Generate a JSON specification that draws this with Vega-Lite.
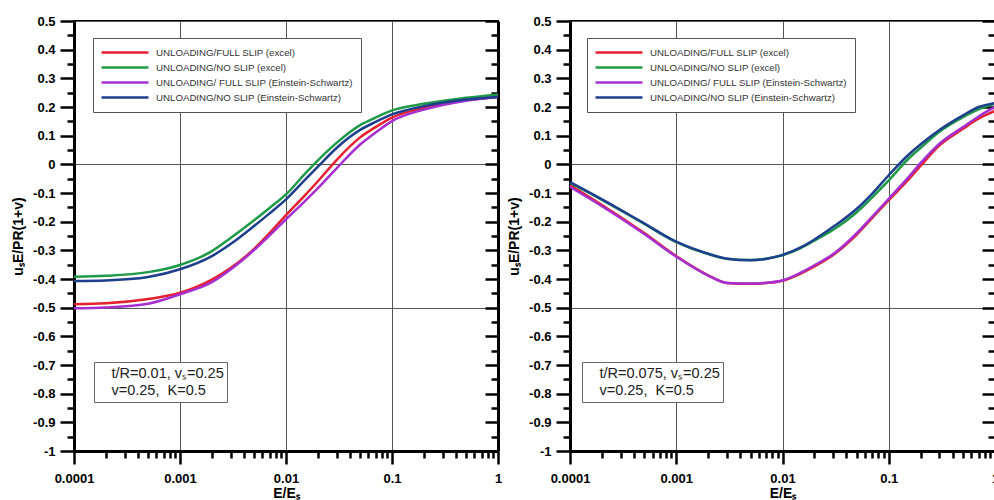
{
  "$schema": "https://vega.github.io/schema/vega-lite/v6.json",
  "background": "white",
  "padding": {"left": 10, "top": 14, "right": 0, "bottom": 0},
  "spacing": 2,
  "datasets": {
    "curves": [
      {"p":"L","s":"UNLOADING/FULL SLIP (excel)","x":0.0001,"y":-0.488},
      {"p":"L","s":"UNLOADING/FULL SLIP (excel)","x":0.0002,"y":-0.485},
      {"p":"L","s":"UNLOADING/FULL SLIP (excel)","x":0.0005,"y":-0.470},
      {"p":"L","s":"UNLOADING/FULL SLIP (excel)","x":0.001,"y":-0.448},
      {"p":"L","s":"UNLOADING/FULL SLIP (excel)","x":0.002,"y":-0.402},
      {"p":"L","s":"UNLOADING/FULL SLIP (excel)","x":0.003,"y":-0.362},
      {"p":"L","s":"UNLOADING/FULL SLIP (excel)","x":0.005,"y":-0.295},
      {"p":"L","s":"UNLOADING/FULL SLIP (excel)","x":0.007,"y":-0.240},
      {"p":"L","s":"UNLOADING/FULL SLIP (excel)","x":0.01,"y":-0.177},
      {"p":"L","s":"UNLOADING/FULL SLIP (excel)","x":0.015,"y":-0.109},
      {"p":"L","s":"UNLOADING/FULL SLIP (excel)","x":0.02,"y":-0.059},
      {"p":"L","s":"UNLOADING/FULL SLIP (excel)","x":0.03,"y":0.015},
      {"p":"L","s":"UNLOADING/FULL SLIP (excel)","x":0.05,"y":0.094},
      {"p":"L","s":"UNLOADING/FULL SLIP (excel)","x":0.07,"y":0.130},
      {"p":"L","s":"UNLOADING/FULL SLIP (excel)","x":0.1,"y":0.163},
      {"p":"L","s":"UNLOADING/FULL SLIP (excel)","x":0.2,"y":0.197},
      {"p":"L","s":"UNLOADING/FULL SLIP (excel)","x":0.5,"y":0.224},
      {"p":"L","s":"UNLOADING/FULL SLIP (excel)","x":1,"y":0.235},
      {"p":"L","s":"UNLOADING/NO SLIP (excel)","x":0.0001,"y":-0.392},
      {"p":"L","s":"UNLOADING/NO SLIP (excel)","x":0.0002,"y":-0.389},
      {"p":"L","s":"UNLOADING/NO SLIP (excel)","x":0.0005,"y":-0.376},
      {"p":"L","s":"UNLOADING/NO SLIP (excel)","x":0.001,"y":-0.351},
      {"p":"L","s":"UNLOADING/NO SLIP (excel)","x":0.002,"y":-0.303},
      {"p":"L","s":"UNLOADING/NO SLIP (excel)","x":0.003,"y":-0.257},
      {"p":"L","s":"UNLOADING/NO SLIP (excel)","x":0.005,"y":-0.195},
      {"p":"L","s":"UNLOADING/NO SLIP (excel)","x":0.007,"y":-0.152},
      {"p":"L","s":"UNLOADING/NO SLIP (excel)","x":0.01,"y":-0.105},
      {"p":"L","s":"UNLOADING/NO SLIP (excel)","x":0.015,"y":-0.034},
      {"p":"L","s":"UNLOADING/NO SLIP (excel)","x":0.02,"y":0.014},
      {"p":"L","s":"UNLOADING/NO SLIP (excel)","x":0.03,"y":0.075},
      {"p":"L","s":"UNLOADING/NO SLIP (excel)","x":0.05,"y":0.137},
      {"p":"L","s":"UNLOADING/NO SLIP (excel)","x":0.07,"y":0.163},
      {"p":"L","s":"UNLOADING/NO SLIP (excel)","x":0.1,"y":0.188},
      {"p":"L","s":"UNLOADING/NO SLIP (excel)","x":0.2,"y":0.211},
      {"p":"L","s":"UNLOADING/NO SLIP (excel)","x":0.5,"y":0.232},
      {"p":"L","s":"UNLOADING/NO SLIP (excel)","x":1,"y":0.244},
      {"p":"L","s":"UNLOADING/ FULL SLIP (Einstein-Schwartz)","x":0.0001,"y":-0.502},
      {"p":"L","s":"UNLOADING/ FULL SLIP (Einstein-Schwartz)","x":0.0002,"y":-0.499},
      {"p":"L","s":"UNLOADING/ FULL SLIP (Einstein-Schwartz)","x":0.0005,"y":-0.486},
      {"p":"L","s":"UNLOADING/ FULL SLIP (Einstein-Schwartz)","x":0.001,"y":-0.453},
      {"p":"L","s":"UNLOADING/ FULL SLIP (Einstein-Schwartz)","x":0.002,"y":-0.411},
      {"p":"L","s":"UNLOADING/ FULL SLIP (Einstein-Schwartz)","x":0.003,"y":-0.367},
      {"p":"L","s":"UNLOADING/ FULL SLIP (Einstein-Schwartz)","x":0.005,"y":-0.299},
      {"p":"L","s":"UNLOADING/ FULL SLIP (Einstein-Schwartz)","x":0.007,"y":-0.248},
      {"p":"L","s":"UNLOADING/ FULL SLIP (Einstein-Schwartz)","x":0.01,"y":-0.192},
      {"p":"L","s":"UNLOADING/ FULL SLIP (Einstein-Schwartz)","x":0.015,"y":-0.129},
      {"p":"L","s":"UNLOADING/ FULL SLIP (Einstein-Schwartz)","x":0.02,"y":-0.083},
      {"p":"L","s":"UNLOADING/ FULL SLIP (Einstein-Schwartz)","x":0.03,"y":-0.014},
      {"p":"L","s":"UNLOADING/ FULL SLIP (Einstein-Schwartz)","x":0.05,"y":0.069},
      {"p":"L","s":"UNLOADING/ FULL SLIP (Einstein-Schwartz)","x":0.07,"y":0.111},
      {"p":"L","s":"UNLOADING/ FULL SLIP (Einstein-Schwartz)","x":0.1,"y":0.151},
      {"p":"L","s":"UNLOADING/ FULL SLIP (Einstein-Schwartz)","x":0.2,"y":0.191},
      {"p":"L","s":"UNLOADING/ FULL SLIP (Einstein-Schwartz)","x":0.5,"y":0.222},
      {"p":"L","s":"UNLOADING/ FULL SLIP (Einstein-Schwartz)","x":1,"y":0.235},
      {"p":"L","s":"UNLOADING/NO SLIP (Einstein-Schwartz)","x":0.0001,"y":-0.407},
      {"p":"L","s":"UNLOADING/NO SLIP (Einstein-Schwartz)","x":0.0002,"y":-0.405},
      {"p":"L","s":"UNLOADING/NO SLIP (Einstein-Schwartz)","x":0.0005,"y":-0.393},
      {"p":"L","s":"UNLOADING/NO SLIP (Einstein-Schwartz)","x":0.001,"y":-0.366},
      {"p":"L","s":"UNLOADING/NO SLIP (Einstein-Schwartz)","x":0.002,"y":-0.320},
      {"p":"L","s":"UNLOADING/NO SLIP (Einstein-Schwartz)","x":0.003,"y":-0.278},
      {"p":"L","s":"UNLOADING/NO SLIP (Einstein-Schwartz)","x":0.005,"y":-0.215},
      {"p":"L","s":"UNLOADING/NO SLIP (Einstein-Schwartz)","x":0.007,"y":-0.171},
      {"p":"L","s":"UNLOADING/NO SLIP (Einstein-Schwartz)","x":0.01,"y":-0.122},
      {"p":"L","s":"UNLOADING/NO SLIP (Einstein-Schwartz)","x":0.015,"y":-0.055},
      {"p":"L","s":"UNLOADING/NO SLIP (Einstein-Schwartz)","x":0.02,"y":-0.008},
      {"p":"L","s":"UNLOADING/NO SLIP (Einstein-Schwartz)","x":0.03,"y":0.057},
      {"p":"L","s":"UNLOADING/NO SLIP (Einstein-Schwartz)","x":0.05,"y":0.120},
      {"p":"L","s":"UNLOADING/NO SLIP (Einstein-Schwartz)","x":0.07,"y":0.148},
      {"p":"L","s":"UNLOADING/NO SLIP (Einstein-Schwartz)","x":0.1,"y":0.174},
      {"p":"L","s":"UNLOADING/NO SLIP (Einstein-Schwartz)","x":0.2,"y":0.203},
      {"p":"L","s":"UNLOADING/NO SLIP (Einstein-Schwartz)","x":0.5,"y":0.226},
      {"p":"L","s":"UNLOADING/NO SLIP (Einstein-Schwartz)","x":1,"y":0.235},

      {"p":"R","s":"UNLOADING/FULL SLIP (excel)","x":0.0001,"y":-0.073},
      {"p":"R","s":"UNLOADING/FULL SLIP (excel)","x":0.0002,"y":-0.142},
      {"p":"R","s":"UNLOADING/FULL SLIP (excel)","x":0.0005,"y":-0.240},
      {"p":"R","s":"UNLOADING/FULL SLIP (excel)","x":0.001,"y":-0.320},
      {"p":"R","s":"UNLOADING/FULL SLIP (excel)","x":0.002,"y":-0.387},
      {"p":"R","s":"UNLOADING/FULL SLIP (excel)","x":0.003,"y":-0.414},
      {"p":"R","s":"UNLOADING/FULL SLIP (excel)","x":0.005,"y":-0.417},
      {"p":"R","s":"UNLOADING/FULL SLIP (excel)","x":0.007,"y":-0.414},
      {"p":"R","s":"UNLOADING/FULL SLIP (excel)","x":0.01,"y":-0.406},
      {"p":"R","s":"UNLOADING/FULL SLIP (excel)","x":0.015,"y":-0.380},
      {"p":"R","s":"UNLOADING/FULL SLIP (excel)","x":0.02,"y":-0.356},
      {"p":"R","s":"UNLOADING/FULL SLIP (excel)","x":0.03,"y":-0.316},
      {"p":"R","s":"UNLOADING/FULL SLIP (excel)","x":0.05,"y":-0.245},
      {"p":"R","s":"UNLOADING/FULL SLIP (excel)","x":0.07,"y":-0.187},
      {"p":"R","s":"UNLOADING/FULL SLIP (excel)","x":0.1,"y":-0.125},
      {"p":"R","s":"UNLOADING/FULL SLIP (excel)","x":0.15,"y":-0.057},
      {"p":"R","s":"UNLOADING/FULL SLIP (excel)","x":0.2,"y":-0.005},
      {"p":"R","s":"UNLOADING/FULL SLIP (excel)","x":0.3,"y":0.066},
      {"p":"R","s":"UNLOADING/FULL SLIP (excel)","x":0.5,"y":0.124},
      {"p":"R","s":"UNLOADING/FULL SLIP (excel)","x":0.7,"y":0.159},
      {"p":"R","s":"UNLOADING/FULL SLIP (excel)","x":1,"y":0.186},
      {"p":"R","s":"UNLOADING/NO SLIP (excel)","x":0.0001,"y":-0.065},
      {"p":"R","s":"UNLOADING/NO SLIP (excel)","x":0.0002,"y":-0.124},
      {"p":"R","s":"UNLOADING/NO SLIP (excel)","x":0.0005,"y":-0.208},
      {"p":"R","s":"UNLOADING/NO SLIP (excel)","x":0.001,"y":-0.271},
      {"p":"R","s":"UNLOADING/NO SLIP (excel)","x":0.002,"y":-0.313},
      {"p":"R","s":"UNLOADING/NO SLIP (excel)","x":0.003,"y":-0.329},
      {"p":"R","s":"UNLOADING/NO SLIP (excel)","x":0.005,"y":-0.334},
      {"p":"R","s":"UNLOADING/NO SLIP (excel)","x":0.007,"y":-0.329},
      {"p":"R","s":"UNLOADING/NO SLIP (excel)","x":0.01,"y":-0.317},
      {"p":"R","s":"UNLOADING/NO SLIP (excel)","x":0.015,"y":-0.291},
      {"p":"R","s":"UNLOADING/NO SLIP (excel)","x":0.02,"y":-0.266},
      {"p":"R","s":"UNLOADING/NO SLIP (excel)","x":0.03,"y":-0.228},
      {"p":"R","s":"UNLOADING/NO SLIP (excel)","x":0.05,"y":-0.167},
      {"p":"R","s":"UNLOADING/NO SLIP (excel)","x":0.07,"y":-0.115},
      {"p":"R","s":"UNLOADING/NO SLIP (excel)","x":0.1,"y":-0.056},
      {"p":"R","s":"UNLOADING/NO SLIP (excel)","x":0.15,"y":0.016},
      {"p":"R","s":"UNLOADING/NO SLIP (excel)","x":0.2,"y":0.058},
      {"p":"R","s":"UNLOADING/NO SLIP (excel)","x":0.3,"y":0.114},
      {"p":"R","s":"UNLOADING/NO SLIP (excel)","x":0.5,"y":0.165},
      {"p":"R","s":"UNLOADING/NO SLIP (excel)","x":0.7,"y":0.192},
      {"p":"R","s":"UNLOADING/NO SLIP (excel)","x":1,"y":0.212},
      {"p":"R","s":"UNLOADING/ FULL SLIP (Einstein-Schwartz)","x":0.0001,"y":-0.079},
      {"p":"R","s":"UNLOADING/ FULL SLIP (Einstein-Schwartz)","x":0.0002,"y":-0.146},
      {"p":"R","s":"UNLOADING/ FULL SLIP (Einstein-Schwartz)","x":0.0005,"y":-0.243},
      {"p":"R","s":"UNLOADING/ FULL SLIP (Einstein-Schwartz)","x":0.001,"y":-0.322},
      {"p":"R","s":"UNLOADING/ FULL SLIP (Einstein-Schwartz)","x":0.002,"y":-0.388},
      {"p":"R","s":"UNLOADING/ FULL SLIP (Einstein-Schwartz)","x":0.003,"y":-0.414},
      {"p":"R","s":"UNLOADING/ FULL SLIP (Einstein-Schwartz)","x":0.005,"y":-0.416},
      {"p":"R","s":"UNLOADING/ FULL SLIP (Einstein-Schwartz)","x":0.007,"y":-0.413},
      {"p":"R","s":"UNLOADING/ FULL SLIP (Einstein-Schwartz)","x":0.01,"y":-0.405},
      {"p":"R","s":"UNLOADING/ FULL SLIP (Einstein-Schwartz)","x":0.015,"y":-0.377},
      {"p":"R","s":"UNLOADING/ FULL SLIP (Einstein-Schwartz)","x":0.02,"y":-0.352},
      {"p":"R","s":"UNLOADING/ FULL SLIP (Einstein-Schwartz)","x":0.03,"y":-0.313},
      {"p":"R","s":"UNLOADING/ FULL SLIP (Einstein-Schwartz)","x":0.05,"y":-0.240},
      {"p":"R","s":"UNLOADING/ FULL SLIP (Einstein-Schwartz)","x":0.07,"y":-0.182},
      {"p":"R","s":"UNLOADING/ FULL SLIP (Einstein-Schwartz)","x":0.1,"y":-0.120},
      {"p":"R","s":"UNLOADING/ FULL SLIP (Einstein-Schwartz)","x":0.15,"y":-0.049},
      {"p":"R","s":"UNLOADING/ FULL SLIP (Einstein-Schwartz)","x":0.2,"y":0.005},
      {"p":"R","s":"UNLOADING/ FULL SLIP (Einstein-Schwartz)","x":0.3,"y":0.072},
      {"p":"R","s":"UNLOADING/ FULL SLIP (Einstein-Schwartz)","x":0.5,"y":0.130},
      {"p":"R","s":"UNLOADING/ FULL SLIP (Einstein-Schwartz)","x":0.7,"y":0.167},
      {"p":"R","s":"UNLOADING/ FULL SLIP (Einstein-Schwartz)","x":1,"y":0.200},
      {"p":"R","s":"UNLOADING/NO SLIP (Einstein-Schwartz)","x":0.0001,"y":-0.062},
      {"p":"R","s":"UNLOADING/NO SLIP (Einstein-Schwartz)","x":0.0002,"y":-0.122},
      {"p":"R","s":"UNLOADING/NO SLIP (Einstein-Schwartz)","x":0.0005,"y":-0.206},
      {"p":"R","s":"UNLOADING/NO SLIP (Einstein-Schwartz)","x":0.001,"y":-0.270},
      {"p":"R","s":"UNLOADING/NO SLIP (Einstein-Schwartz)","x":0.002,"y":-0.312},
      {"p":"R","s":"UNLOADING/NO SLIP (Einstein-Schwartz)","x":0.003,"y":-0.329},
      {"p":"R","s":"UNLOADING/NO SLIP (Einstein-Schwartz)","x":0.005,"y":-0.335},
      {"p":"R","s":"UNLOADING/NO SLIP (Einstein-Schwartz)","x":0.007,"y":-0.330},
      {"p":"R","s":"UNLOADING/NO SLIP (Einstein-Schwartz)","x":0.01,"y":-0.316},
      {"p":"R","s":"UNLOADING/NO SLIP (Einstein-Schwartz)","x":0.015,"y":-0.289},
      {"p":"R","s":"UNLOADING/NO SLIP (Einstein-Schwartz)","x":0.02,"y":-0.262},
      {"p":"R","s":"UNLOADING/NO SLIP (Einstein-Schwartz)","x":0.03,"y":-0.218},
      {"p":"R","s":"UNLOADING/NO SLIP (Einstein-Schwartz)","x":0.05,"y":-0.155},
      {"p":"R","s":"UNLOADING/NO SLIP (Einstein-Schwartz)","x":0.07,"y":-0.102},
      {"p":"R","s":"UNLOADING/NO SLIP (Einstein-Schwartz)","x":0.1,"y":-0.038},
      {"p":"R","s":"UNLOADING/NO SLIP (Einstein-Schwartz)","x":0.15,"y":0.030},
      {"p":"R","s":"UNLOADING/NO SLIP (Einstein-Schwartz)","x":0.2,"y":0.070},
      {"p":"R","s":"UNLOADING/NO SLIP (Einstein-Schwartz)","x":0.3,"y":0.120},
      {"p":"R","s":"UNLOADING/NO SLIP (Einstein-Schwartz)","x":0.5,"y":0.171},
      {"p":"R","s":"UNLOADING/NO SLIP (Einstein-Schwartz)","x":0.7,"y":0.200},
      {"p":"R","s":"UNLOADING/NO SLIP (Einstein-Schwartz)","x":1,"y":0.214}
    ]
  },
  "data": {"name": "curves"},
  "config": {
    "view": {"stroke": "black", "strokeWidth": 2},
    "font": "Liberation Sans",
    "axis": {
      "labelFont": "Liberation Sans", "labelFontWeight": "bold", "labelFontSize": 13, "labelColor": "black",
      "titleFont": "Liberation Sans", "titleFontWeight": "bold", "titleFontSize": 14, "titleColor": "black",
      "domainColor": "black", "domainWidth": 3, "tickColor": "black", "tickWidth": 2.5,
      "gridColor": "#555", "gridWidth": 1, "labelFlush": false, "labelOverlap": false, "labelBound": false
    },
    "legend": {
      "labelFont": "Liberation Sans", "labelLimit": 400, "title": null
    }
  },
  "resolve": {"scale": {"color": "independent", "strokeDash": "independent"}},
  "hconcat": [
    {
      "width": 424, "height": 430,
      "transform": [{"filter": "datum.p == 'L'"}],
      "resolve": {"axis": {"x": "independent", "y": "independent"}},
      "layer": [
        {
          "mark": {"type": "line", "strokeWidth": 2.5, "interpolate": "monotone"},
          "encoding": {
            "x": {"field": "x", "type": "quantitative",
              "scale": {"type": "log", "domain": [0.0001, 1], "nice": false},
              "axis": {"orient": "bottom", "title": "E/Eₛ",
                "values": [0.0001,0.0002,0.0003,0.0004,0.0005,0.0006,0.0007,0.0008,0.0009,0.001,0.002,0.003,0.004,0.005,0.006,0.007,0.008,0.009,0.01,0.02,0.03,0.04,0.05,0.06,0.07,0.08,0.09,0.1,0.2,0.3,0.4,0.5,0.6,0.7,0.8,0.9,1],
                "labelExpr": "abs(log(datum.value)/LN10 - round(log(datum.value)/LN10)) < 0.001 ? '' + datum.value : ''",
                "tickSize": {"condition": {"test": "abs(log(datum.value)/LN10 - round(log(datum.value)/LN10)) < 0.001", "value": 13}, "value": 7},
                "grid": true,
                "gridOpacity": {"condition": {"test": "abs(log(datum.value)/LN10 - round(log(datum.value)/LN10)) < 0.001", "value": 1}, "value": 0},
                "labelPadding": 8, "titlePadding": 1}},
            "y": {"field": "y", "type": "quantitative",
              "scale": {"domain": [-1, 0.5], "nice": false, "zero": false},
              "axis": {"orient": "left", "title": "uₛE/PR(1+v)",
                "values": [0.5,0.45,0.4,0.35,0.3,0.25,0.2,0.15,0.1,0.05,0,-0.05,-0.1,-0.15,-0.2,-0.25,-0.3,-0.35,-0.4,-0.45,-0.5,-0.55,-0.6,-0.65,-0.7,-0.75,-0.8,-0.85,-0.9,-0.95,-1],
                "labelExpr": "abs(datum.value*10 - round(datum.value*10)) < 0.001 ? '' + datum.value : ''",
                "tickSize": {"condition": {"test": "abs(datum.value*10 - round(datum.value*10)) < 0.001", "value": 14}, "value": 7},
                "grid": true,
                "gridOpacity": {"condition": {"test": "abs(datum.value*2 - round(datum.value*2)) < 0.001", "value": 1}, "value": 0},
                "labelPadding": 5, "titlePadding": 7}},
            "color": {"field": "s", "type": "nominal",
              "scale": {"domain": ["UNLOADING/FULL SLIP (excel)", "UNLOADING/NO SLIP (excel)", "UNLOADING/ FULL SLIP (Einstein-Schwartz)", "UNLOADING/NO SLIP (Einstein-Schwartz)"],
                "range": ["#e4202e", "#1f9a48", "#a52fd0", "#1d3f8e"]},
              "legend": {"orient": "none", "legendX": 19, "legendY": 17, "title": null,
                "symbolType": "stroke", "symbolSize": 2209, "symbolStrokeWidth": 2.5, "clipHeight": 15,
                "labelFontSize": 9.7, "labelColor": "#333", "labelOffset": 6, "labelLimit": 400,
                "padding": 7, "rowPadding": 0, "strokeColor": "#555", "fillColor": "white"}}
          }
        },
        {
          "mark": {"type": "line", "opacity": 0},
          "encoding": {
            "x": {"field": "x", "type": "quantitative", "axis": null},
            "y": {"field": "y", "type": "quantitative",
              "axis": {"orient": "right", "title": null, "labels": false, "grid": false,
                "values": [0.5,0.45,0.4,0.35,0.3,0.25,0.2,0.15,0.1,0.05,0,-0.05,-0.1,-0.15,-0.2,-0.25,-0.3,-0.35,-0.4,-0.45,-0.5,-0.55,-0.6,-0.65,-0.7,-0.75,-0.8,-0.85,-0.9,-0.95,-1],
                "tickSize": {"condition": {"test": "abs(datum.value*10 - round(datum.value*10)) < 0.001", "value": -13}, "value": -7}}},
            "strokeDash": {"datum": "t/R=0.01, vₛ=0.25", "type": "nominal",
              "scale": {"domain": ["t/R=0.01, vₛ=0.25", "v=0.25,\u00a0 K=0.5"], "range": [[1, 0], [1, 0]]},
              "legend": {"orient": "none", "legendX": 20, "legendY": 341, "title": null,
                "symbolSize": 0, "symbolStrokeWidth": 0, "symbolOpacity": 0, "clipHeight": 17,
                "labelFontSize": 14.5, "labelColor": "#222", "labelOffset": 0, "labelLimit": 400,
                "padding": 3, "rowPadding": 0, "strokeColor": "#666", "fillColor": "white"}}
          }
        }
      ]
    },
    {
      "width": 425, "height": 430,
      "transform": [{"filter": "datum.p == 'R'"}],
      "resolve": {"axis": {"x": "independent", "y": "independent"}},
      "layer": [
        {
          "mark": {"type": "line", "strokeWidth": 2.5, "interpolate": "monotone"},
          "encoding": {
            "x": {"field": "x", "type": "quantitative",
              "scale": {"type": "log", "domain": [0.0001, 1], "nice": false},
              "axis": {"orient": "bottom", "title": "E/Eₛ",
                "values": [0.0001,0.0002,0.0003,0.0004,0.0005,0.0006,0.0007,0.0008,0.0009,0.001,0.002,0.003,0.004,0.005,0.006,0.007,0.008,0.009,0.01,0.02,0.03,0.04,0.05,0.06,0.07,0.08,0.09,0.1,0.2,0.3,0.4,0.5,0.6,0.7,0.8,0.9,1],
                "labelExpr": "abs(log(datum.value)/LN10 - round(log(datum.value)/LN10)) < 0.001 ? '' + datum.value : ''",
                "tickSize": {"condition": {"test": "abs(log(datum.value)/LN10 - round(log(datum.value)/LN10)) < 0.001", "value": 13}, "value": 7},
                "grid": true,
                "gridOpacity": {"condition": {"test": "abs(log(datum.value)/LN10 - round(log(datum.value)/LN10)) < 0.001", "value": 1}, "value": 0},
                "labelPadding": 8, "titlePadding": 1}},
            "y": {"field": "y", "type": "quantitative",
              "scale": {"domain": [-1, 0.5], "nice": false, "zero": false},
              "axis": {"orient": "left", "title": "uₛE/PR(1+v)",
                "values": [0.5,0.45,0.4,0.35,0.3,0.25,0.2,0.15,0.1,0.05,0,-0.05,-0.1,-0.15,-0.2,-0.25,-0.3,-0.35,-0.4,-0.45,-0.5,-0.55,-0.6,-0.65,-0.7,-0.75,-0.8,-0.85,-0.9,-0.95,-1],
                "labelExpr": "abs(datum.value*10 - round(datum.value*10)) < 0.001 ? '' + datum.value : ''",
                "tickSize": {"condition": {"test": "abs(datum.value*10 - round(datum.value*10)) < 0.001", "value": 14}, "value": 7},
                "grid": true,
                "gridOpacity": {"condition": {"test": "abs(datum.value*2 - round(datum.value*2)) < 0.001", "value": 1}, "value": 0},
                "labelPadding": 5, "titlePadding": 7}},
            "color": {"field": "s", "type": "nominal",
              "scale": {"domain": ["UNLOADING/FULL SLIP (excel)", "UNLOADING/NO SLIP (excel)", "UNLOADING/ FULL SLIP (Einstein-Schwartz)", "UNLOADING/NO SLIP (Einstein-Schwartz)"],
                "range": ["#e4202e", "#1f9a48", "#a52fd0", "#1d3f8e"]},
              "legend": {"orient": "none", "legendX": 17, "legendY": 17, "title": null,
                "symbolType": "stroke", "symbolSize": 2209, "symbolStrokeWidth": 2.5, "clipHeight": 15,
                "labelFontSize": 9.7, "labelColor": "#333", "labelOffset": 6, "labelLimit": 400,
                "padding": 7, "rowPadding": 0, "strokeColor": "#555", "fillColor": "white"}}
          }
        },
        {
          "mark": {"type": "line", "opacity": 0},
          "encoding": {
            "x": {"field": "x", "type": "quantitative", "axis": null},
            "y": {"field": "y", "type": "quantitative",
              "axis": {"orient": "right", "title": null, "labels": false, "grid": false,
                "values": [0.5,0.45,0.4,0.35,0.3,0.25,0.2,0.15,0.1,0.05,0,-0.05,-0.1,-0.15,-0.2,-0.25,-0.3,-0.35,-0.4,-0.45,-0.5,-0.55,-0.6,-0.65,-0.7,-0.75,-0.8,-0.85,-0.9,-0.95,-1],
                "tickSize": {"condition": {"test": "abs(datum.value*10 - round(datum.value*10)) < 0.001", "value": -13}, "value": -7}}},
            "strokeDash": {"datum": "t/R=0.075, vₛ=0.25", "type": "nominal",
              "scale": {"domain": ["t/R=0.075, vₛ=0.25", "v=0.25,\u00a0 K=0.5"], "range": [[1, 0], [1, 0]]},
              "legend": {"orient": "none", "legendX": 12, "legendY": 341, "title": null,
                "symbolSize": 0, "symbolStrokeWidth": 0, "symbolOpacity": 0, "clipHeight": 17,
                "labelFontSize": 14.5, "labelColor": "#222", "labelOffset": 0, "labelLimit": 400,
                "padding": 3, "rowPadding": 0, "strokeColor": "#666", "fillColor": "white"}}
          }
        }
      ]
    }
  ]
}
